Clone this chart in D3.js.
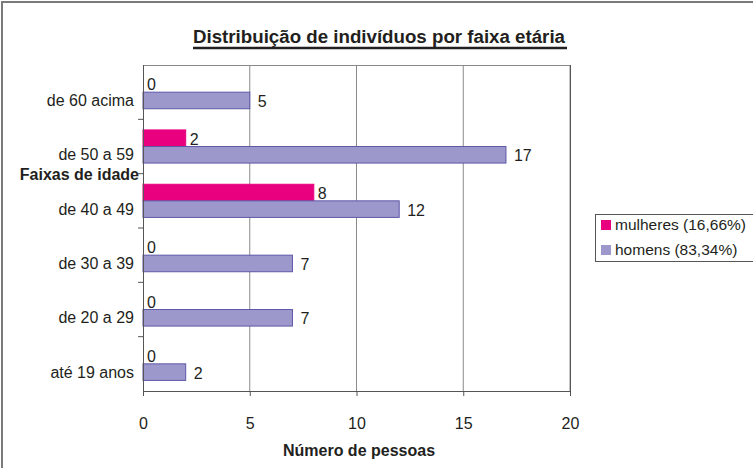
<!DOCTYPE html>
<html>
<head>
<meta charset="utf-8">
<script src="https://cdn.jsdelivr.net/npm/d3@7"></script>
<style>
  body { margin: 0; background: #fff; }
  svg text { font-family: "Liberation Sans", Arial, sans-serif; fill: #231f20; }
</style>
</head>
<body>
<svg id="chart" width="753" height="468"></svg>
<script>
// faixas etárias, de cima para baixo
var faixas = ["de 60 acima", "de 50 a 59", "de 40 a 49", "de 30 a 39", "de 20 a 29", "até 19 anos"];
var mulheres = [0, 2, 8, 0, 0, 0];
var homens = [5, 17, 12, 7, 7, 2];
var series = ["mulheres", "homens"];
var legendas = ["mulheres (16,66%)", "homens (83,34%)"];
var xTicks = [0, 5, 10, 15, 20];

var cores = { mulheres: "#e8007f", homens: "#9d98cb" };
var bordas = { mulheres: "#e8007f", homens: "#5e58a8" };

var svg = d3.select("#chart");

var margin = {top: 65, left: 143, right: 183, bottom: 77},
    width = 753 - margin.left - margin.right,
    height = 468 - margin.top - margin.bottom;

var rows = faixas.map(function(f, i) {
    return {faixa: f, mulheres: mulheres[i], homens: homens[i]};
});

var x = d3.scaleLinear().domain([0, 20]).range([0, width]);
var y = d3.scaleBand().domain(faixas).range([0, height])
    .paddingInner(0.39).paddingOuter(0.195);
var y1 = d3.scaleBand().domain(series).range([0, y.bandwidth()]);

// moldura externa
svg.append("path")
    .attr("d", "M2,468V2H753")
    .attr("fill", "none").attr("stroke", "#7a7a7a").attr("stroke-width", 2);

// título
svg.append("text")
    .attr("x", 379).attr("y", 43)
    .attr("text-anchor", "middle")
    .attr("textLength", 372).attr("lengthAdjust", "spacingAndGlyphs")
    .style("font-family", "'Liberation Sans Narrow', 'Liberation Sans', sans-serif")
    .style("font-size", "18px").style("font-weight", "bold")
    .text("Distribuição de indivíduos por faixa etária");
svg.append("line")
    .attr("x1", 193).attr("x2", 567).attr("y1", 48).attr("y2", 48)
    .attr("stroke", "#231f20").attr("stroke-width", 2.5);

var g = svg.append("g").attr("transform", "translate(" + margin.left + "," + margin.top + ")");

// grade
g.selectAll(".grid").data(xTicks.slice(1)).enter().append("line")
    .attr("class", "grid")
    .attr("x1", d => x(d)).attr("x2", d => x(d))
    .attr("y1", 0).attr("y2", height)
    .attr("stroke", "#8a8a8a").attr("stroke-width", 1);
g.append("line").attr("x1", 0).attr("x2", width).attr("y1", 0.5).attr("y2", 0.5)
    .attr("stroke", "#8a8a8a");

// barras
var grupo = g.selectAll(".grupo").data(rows).enter().append("g")
    .attr("class", "grupo")
    .attr("transform", d => "translate(0," + y(d.faixa) + ")");

series.forEach(function(s) {
    grupo.filter(d => d[s] > 0).append("rect")
        .attr("x", x(0))
        .attr("y", y1(s))
        .attr("width", d => x(d[s]))
        .attr("height", y1.bandwidth())
        .attr("fill", cores[s])
        .attr("stroke", bordas[s]).attr("stroke-width", 1);
    grupo.append("text")
        .attr("x", d => x(d[s]) + (s == "homens" ? 8 : 4))
        .attr("y", y1(s) + y1.bandwidth() / 2 + 1)
        .attr("dy", "0.35em")
        .style("font-size", "16px")
        .text(d => d[s]);
});

// eixo x
var xAxis = g.append("g")
    .attr("transform", "translate(0," + height + ")")
    .call(d3.axisBottom(x).tickValues(xTicks).tickSize(5).tickPadding(22));
xAxis.select(".domain").attr("stroke", "#555");
xAxis.selectAll(".tick line").attr("stroke", "#555");
xAxis.selectAll("text").style("font-size", "16px").attr("fill", "#231f20")
    .style("font-family", "'Liberation Sans', Arial, sans-serif");

// eixo y (marcas nas divisões)
g.append("line").attr("x1", 0.5).attr("x2", 0.5).attr("y1", 0).attr("y2", height + 5)
    .attr("stroke", "#555");
g.append("line").attr("x1", width + 0.5).attr("x2", width + 0.5).attr("y1", 0).attr("y2", height + 5)
    .attr("stroke", "#555");
g.selectAll(".ytick").data(faixas.slice(1)).enter().append("line")
    .attr("class", "ytick")
    .attr("x1", -5).attr("x2", 0)
    .attr("y1", d => y(d) - y.step() * y.paddingInner() / 2)
    .attr("y2", d => y(d) - y.step() * y.paddingInner() / 2)
    .attr("stroke", "#555");
g.selectAll(".ylabel").data(faixas).enter().append("text")
    .attr("class", "ylabel")
    .attr("x", -9)
    .attr("y", d => y(d) + y1("homens") + y1.bandwidth() / 2)
    .attr("dy", "0.35em")
    .attr("text-anchor", "end")
    .style("font-size", "16px")
    .text(d => d);

// títulos dos eixos
svg.append("text")
    .attr("x", 139).attr("y", 174).attr("dy", "0.35em")
    .attr("text-anchor", "end")
    .style("font-size", "16px").style("font-weight", "bold")
    .text("Faixas de idade");
svg.append("text")
    .attr("x", 359).attr("y", 450).attr("dy", "0.35em")
    .attr("text-anchor", "middle")
    .style("font-size", "16px").style("font-weight", "bold")
    .text("Número de pessoas");

// legenda
var leg = svg.append("g").attr("transform", "translate(595,214)");
leg.append("rect").attr("x", 0.5).attr("y", 0.5).attr("width", 170).attr("height", 47)
    .attr("fill", "#fff").attr("stroke", "#555");
series.forEach(function(s, i) {
    var row = leg.append("g").attr("transform", "translate(6," + (11 + i * 25) + ")");
    row.append("rect").attr("x", 0).attr("y", -5).attr("width", 10).attr("height", 10)
        .attr("fill", cores[s]);
    row.append("text").attr("x", 14).attr("y", 0).attr("dy", "0.35em")
        .style("font-size", "15.5px")
        .text(legendas[i]);
});
</script>
</body>
</html>
